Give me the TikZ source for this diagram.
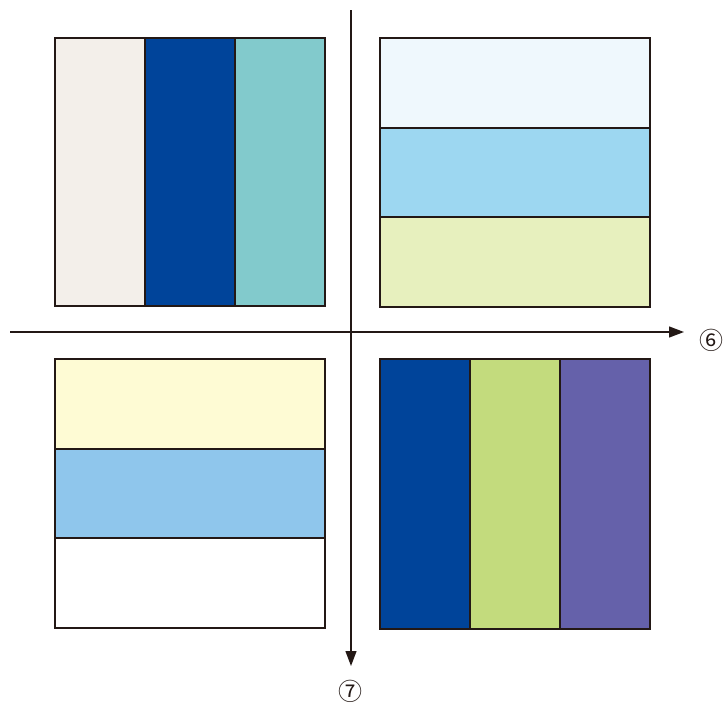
\documentclass[tikz,border=0pt]{standalone}
\usepackage{fontspec}
\usepackage{tikz}
\usetikzlibrary{arrows.meta, positioning}
\newfontfamily\symfont{Noto Sans CJK JP}
\definecolor{inkBlack}{RGB}{35, 24, 21}
\definecolor{paperCream}{RGB}{243, 239, 234}
\definecolor{paperNavy}{RGB}{0, 68, 154}
\definecolor{paperTeal}{RGB}{130, 202, 204}
\definecolor{paperIce}{RGB}{239, 248, 253}
\definecolor{paperSky}{RGB}{157, 215, 241}
\definecolor{paperLime}{RGB}{231, 240, 190}
\definecolor{paperLemon}{RGB}{254, 251, 212}
\definecolor{paperAzure}{RGB}{143, 198, 236}
\definecolor{paperLeaf}{RGB}{195, 219, 125}
\definecolor{paperViolet}{RGB}{101, 97, 170}

\begin{document}
\begin{tikzpicture}[x=1pt, y=-1pt,
    vstrip/.style={draw=inkBlack, line width=2pt, inner sep=0pt, outer sep=0pt, minimum width=90pt, minimum height=268pt},
    hstrip/.style={draw=inkBlack, line width=2pt, inner sep=0pt, outer sep=0pt, minimum width=270pt, minimum height=89.5pt},
    axis/.style={draw=inkBlack, line width=1.3pt, -{Triangle[length=15pt, width=11pt]}},
    label/.style={inkBlack, inner sep=0pt, font=\symfont\fontsize{24}{24}\selectfont}]
        \useasboundingbox (0, 0) rectangle (724, 704);

        % Cuadrante superior izquierdo
        \node[vstrip, fill=paperCream] (a1) at (100, 172) {};
        \node[vstrip, fill=paperNavy, right=0pt of a1] (a2) {};
        \node[vstrip, fill=paperTeal, right=0pt of a2] (a3) {};

        % Cuadrante superior derecho
        \node[hstrip, fill=paperIce] (b1) at (515, 82.75) {};
        \node[hstrip, fill=paperSky, below=0pt of b1] (b2) {};
        \node[hstrip, fill=paperLime, below=0pt of b2] (b3) {};

        % Cuadrante inferior izquierdo
        \node[hstrip, fill=paperLemon] (c1) at (190, 404) {};
        \node[hstrip, fill=paperAzure, below=0pt of c1] (c2) {};
        \node[hstrip, fill=white, below=0pt of c2] (c3) {};

        % Cuadrante inferior derecho
        \node[vstrip, fill=paperNavy, minimum height=270pt] (d1) at (425, 494) {};
        \node[vstrip, fill=paperLeaf, minimum height=270pt, right=0pt of d1] (d2) {};
        \node[vstrip, fill=paperViolet, minimum height=270pt, right=0pt of d2] (d3) {};

        % Ejes
        \coordinate (xs) at (10, 332);
        \coordinate (xe) at (684, 332);
        \coordinate (ys) at (351, 10);
        \coordinate (ye) at (351, 666);
        \draw[axis] (xs) -- (xe);
        \draw[axis] (ys) -- (ye);

        % Etiquetas
        \node[label] (lx) at (711, 340) {⑥};
        \node[label] (ly) at (350, 691) {⑦};
    \end{tikzpicture}
\end{document}
